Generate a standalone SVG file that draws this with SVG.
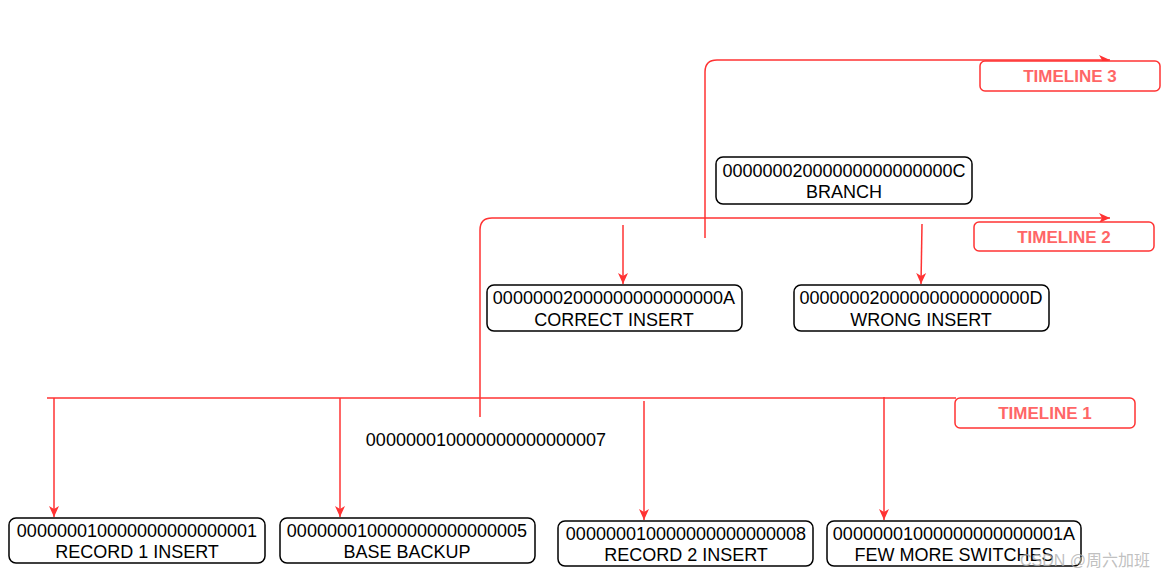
<svg xmlns="http://www.w3.org/2000/svg" width="1172" height="579" viewBox="0 0 1172 579">
<style>
.box{fill:#fff;stroke:#000;stroke-width:1.5}
.tl{fill:#fff;stroke:#ff3333;stroke-width:1.5}
.t{font-family:"Liberation Sans",Arial,sans-serif;font-size:18px;fill:#000;text-anchor:middle}
.tt{font-family:"Liberation Sans",Arial,sans-serif;font-size:17px;font-weight:bold;fill:#ff6666;text-anchor:middle}
.ln{fill:none;stroke:#ff3333;stroke-width:1.5}
</style>
<defs>
<marker id="ah" markerWidth="12" markerHeight="12" refX="11" refY="6" orient="auto" markerUnits="userSpaceOnUse">
<path d="M0,1 L11,6 L0,11 L3,6 Z" fill="#ff3333"/>
</marker>
</defs>
<rect width="1172" height="579" fill="#fff"/>
<g id="connectors">
<line class="ln" x1="47" y1="398" x2="956" y2="398"/>
<line class="ln" x1="54" y1="398" x2="54" y2="517" marker-end="url(#ah)"/>
<line class="ln" x1="340" y1="398" x2="340" y2="517" marker-end="url(#ah)"/>
<line class="ln" x1="644" y1="401" x2="644" y2="520" marker-end="url(#ah)"/>
<line class="ln" x1="884" y1="397" x2="884" y2="520" marker-end="url(#ah)"/>
<path class="ln" d="M480,417 V230 Q480,218 492,218 H1110" marker-end="url(#ah)"/>
<path class="ln" d="M705,238 V72 Q705,60 717,60 H1110" marker-end="url(#ah)"/>
<line class="ln" x1="623" y1="225" x2="623" y2="284" marker-end="url(#ah)"/>
<line class="ln" x1="922" y1="224" x2="921" y2="284" marker-end="url(#ah)"/>
</g>
<g id="timeline1"><rect class="tl" x="955" y="398" width="180" height="30" rx="5"/><text class="tt" x="1045" y="419">TIMELINE 1</text></g>
<g id="timeline2"><rect class="tl" x="974" y="222" width="180" height="29" rx="5"/><text class="tt" x="1064" y="243">TIMELINE 2</text></g>
<g id="timeline3"><rect class="tl" x="980" y="61" width="180" height="30" rx="5"/><text class="tt" x="1070" y="82">TIMELINE 3</text></g>
<g id="branch"><rect class="box" x="716" y="157" width="256" height="47" rx="7"/><text class="t" x="844" y="177">00000002000000000000000C</text><text class="t" x="844" y="198">BRANCH</text></g>
<g id="correct"><rect class="box" x="487" y="285" width="255" height="46" rx="7"/><text class="t" x="614" y="304">00000002000000000000000A</text><text class="t" x="614" y="326">CORRECT INSERT</text></g>
<g id="wrong"><rect class="box" x="794" y="285" width="255" height="46" rx="7"/><text class="t" x="921" y="304">00000002000000000000000D</text><text class="t" x="921" y="326">WRONG INSERT</text></g>
<g id="label7"><text class="t" x="486" y="446">000000010000000000000007</text></g>
<g id="n1"><rect class="box" x="9" y="518" width="256" height="45" rx="7"/><text class="t" x="137" y="537">000000010000000000000001</text><text class="t" x="137" y="558">RECORD 1 INSERT</text></g>
<g id="n2"><rect class="box" x="280" y="518" width="255" height="45" rx="7"/><text class="t" x="407" y="537">000000010000000000000005</text><text class="t" x="407" y="558">BASE BACKUP</text></g>
<g id="n3"><rect class="box" x="558" y="521" width="255" height="45" rx="7"/><text class="t" x="686" y="540">000000010000000000000008</text><text class="t" x="686" y="561">RECORD 2 INSERT</text></g>
<g id="n4"><rect class="box" x="827" y="521" width="254" height="45" rx="7"/><text class="t" x="954" y="540">00000001000000000000001A</text><text class="t" x="954" y="561">FEW MORE SWITCHES</text></g>
<text x="1020" y="566" font-family="'Liberation Sans','Noto Sans CJK SC',sans-serif" font-size="16" fill="#b0b0b0" fill-opacity="0.8">CSDN @周六加班</text>
</svg>
